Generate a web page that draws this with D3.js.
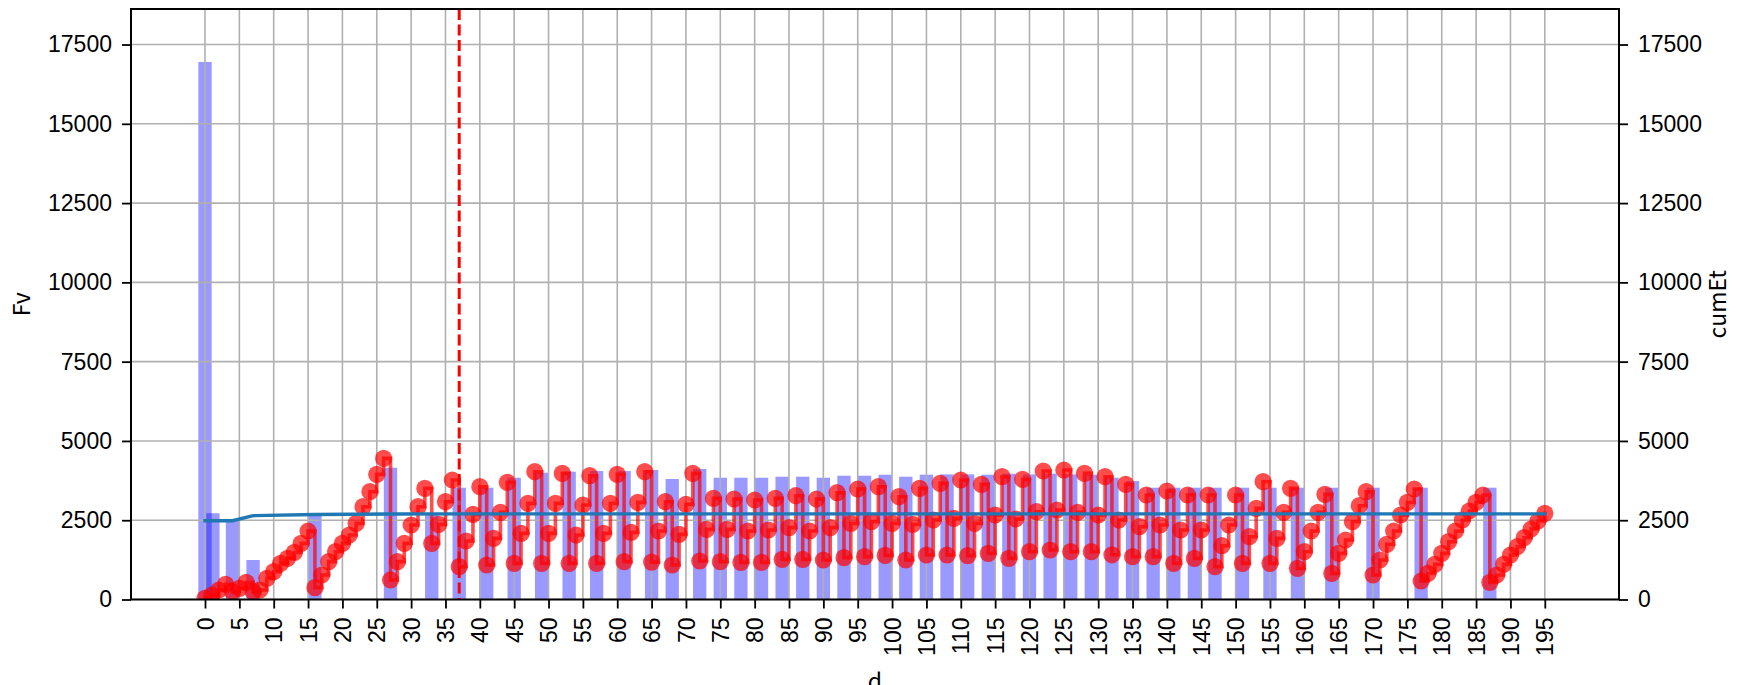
<!DOCTYPE html>
<html>
<head>
<meta charset="utf-8">
<script src="https://cdn.jsdelivr.net/npm/d3@7"></script>
<style>
  body { margin: 0; background: #fff; }
  svg { display: block; font-family: "Noto Sans CJK JP", "Noto Sans", sans-serif; }
</style>
</head>
<body>
<svg id="chart" width="1740" height="685"></svg>
<script>
// Daily Fv values, one per day d = 0 .. 195
const fvValues = [
  37, 142, 300, 478, 247, 352, 541, 247, 300, 667,
  877, 1140, 1298, 1487, 1771, 2160, 373, 772, 1193, 1508,
  1771, 2033, 2401, 2927, 3400, 3946, 4450, 616, 1193, 1771,
  2349, 2927, 3505, 1771, 2370, 3084, 3768, 1035, 1844, 2685,
  3557, 1088, 1928, 2748, 3694, 1140, 2086, 3032, 4030, 1140,
  2086, 3032, 3978, 1140, 2033, 2979, 3904, 1140, 2086, 3032,
  3946, 1193, 2118, 3063, 4030, 1180, 2160, 3084, 1088, 2054,
  3000, 3978, 1214, 2212, 3189, 1193, 2212, 3168, 1172, 2160,
  3137, 1172, 2191, 3189, 1266, 2265, 3273, 1266, 2160, 3168,
  1245, 2265, 3368, 1319, 2401, 3484, 1350, 2454, 3557, 1390,
  2401, 3242, 1245, 2370, 3505, 1403, 2506, 3663, 1403, 2559,
  3768, 1382, 2401, 3631, 1456, 2664, 3873, 1298, 2538, 3789,
  1508, 2769, 4052, 1561, 2822, 4083, 1508, 2748, 3978, 1508,
  2664, 3873, 1410, 2506, 3631, 1350, 2296, 3295, 1350, 2349,
  3421, 1140, 2191, 3295, 1298, 2191, 3295, 1035, 1697, 2349,
  3295, 1140, 1981, 2874, 3715, 1140, 1928, 2748, 3505, 983,
  1508, 2160, 2748, 3316, 825, 1456, 1876, 2454, 2958, 3400,
  772, 1245, 1739, 2160, 2664, 3063, 3484, 583, 825, 1109,
  1456, 1823, 2160, 2506, 2790, 3063, 3295, 541, 772, 1109,
  1403, 1666, 1949, 2223, 2475, 2717
];

// Event days drawn as bars, and their Fv totals
const barDays = [
  0, 1.15, 4, 7, 16, 27, 33, 37, 41, 45, 49, 53, 57, 61, 65,
  68, 72, 75, 78, 81, 84, 87, 90, 93, 96, 99,
  102, 105, 108, 111, 114, 117, 120, 123, 126, 129, 132,
  135, 138, 141, 144, 147, 151, 155, 159, 164, 170, 177, 187
];
const barFv = [
  16950, 2720, 2490, 1245, 2650, 4156, 2700, 3525, 3525, 3840, 3998, 4030, 4050, 4050, 4083,
  3800, 4114, 3840, 3840, 3840, 3872, 3872, 3840, 3903, 3903, 3935,
  3872, 3935, 3945, 3945, 3935, 3967, 3945, 3970, 3945, 3935, 3840,
  3735, 3525, 3525, 3525, 3525, 3525, 3525, 3525, 3525, 3525, 3525, 3525
];

// Cumulative Et curve (right axis)
const cumDays = [0, 4, 7, 16, 27, 37, 195];
const cumEt   = [2485, 2485, 2643, 2680, 2695, 2700, 2700];

// Reference day marked with a dashed line
const markerDay = 37;

// Tick labels
const xTickValues = [0, 5, 10, 15, 20, 25, 30, 35, 40, 45, 50, 55, 60, 65, 70, 75, 80, 85, 90, 95,
  100, 105, 110, 115, 120, 125, 130, 135, 140, 145, 150, 155, 160, 165, 170, 175, 180, 185, 190, 195];
const yTickValues = [0, 2500, 5000, 7500, 10000, 12500, 15000, 17500];

const plot = { left: 131, right: 1619, top: 9, bottom: 599.5 };
const fontSize = 23;

const svg = d3.select("#chart");

const x = d3.scaleLinear().domain([-10.77, 205.8]).range([plot.left, plot.right]);
const y = d3.scaleLinear().domain([0, 18620]).range([plot.bottom, plot.top]);
const yRight = d3.scaleLinear().domain([0, 18620]).range([plot.bottom, plot.top]);

svg.append("defs").append("clipPath").attr("id", "plot-clip")
  .append("rect")
  .attr("x", plot.left).attr("y", plot.top)
  .attr("width", plot.right - plot.left).attr("height", plot.bottom - plot.top);

const body = svg.append("g").attr("clip-path", "url(#plot-clip)");

// Bars
const barWidth = 1.94;
body.append("g").selectAll("rect")
  .data(barDays.map((d, i) => ({ d, v: barFv[i] })))
  .join("rect")
  .attr("x", p => x(p.d - barWidth / 2))
  .attr("width", x(barWidth) - x(0))
  .attr("y", p => y(p.v))
  .attr("height", p => y(0) - y(p.v))
  .attr("fill", "#0000ff")
  .attr("fill-opacity", 0.4);

// Grid
const grid = body.append("g").attr("stroke", "#b0b0b0").attr("stroke-width", 1.6);
grid.selectAll("line.gx").data(xTickValues).join("line")
  .attr("x1", d => x(d)).attr("x2", d => x(d))
  .attr("y1", plot.top).attr("y2", plot.bottom);
grid.selectAll("line.gy").data(yTickValues).join("line")
  .attr("x1", plot.left).attr("x2", plot.right)
  .attr("y1", d => y(d)).attr("y2", d => y(d));

// Fv step series with markers
const fvPoints = fvValues.map((v, i) => ({ d: i, v }));
const stepLine = d3.line().x(p => x(p.d)).y(p => y(p.v)).curve(d3.curveStepAfter);
body.append("path")
  .datum(fvPoints)
  .attr("d", stepLine)
  .attr("fill", "none")
  .attr("stroke", "#ff0000")
  .attr("stroke-opacity", 0.7)
  .attr("stroke-width", 3.6)
  .attr("stroke-linecap", "square");
body.append("g").selectAll("circle")
  .data(fvPoints)
  .join("circle")
  .attr("cx", p => x(p.d))
  .attr("cy", p => y(p.v))
  .attr("r", 8.6)
  .attr("fill", "#ff0000")
  .attr("fill-opacity", 0.7);

// Dashed reference line
body.append("line")
  .attr("x1", x(markerDay)).attr("x2", x(markerDay))
  .attr("y1", plot.top).attr("y2", plot.bottom)
  .attr("stroke", "#ff0000")
  .attr("stroke-width", 3)
  .attr("stroke-dasharray", "11,4.5");

// cumEt line on right axis
const cumLine = d3.line().x(p => x(p.d)).y(p => yRight(p.v));
body.append("path")
  .datum(cumDays.map((d, i) => ({ d, v: cumEt[i] })))
  .attr("d", cumLine)
  .attr("fill", "none")
  .attr("stroke", "#1f77b4")
  .attr("stroke-width", 3.4)
  .attr("stroke-linecap", "square");

// Axes
const fmt = d3.format("d");
function styleAxis(g) {
  g.selectAll("path.domain").remove();
  g.selectAll(".tick line").attr("stroke", "#000").attr("stroke-width", 1.8);
  g.selectAll(".tick text").attr("fill", "#000").style("font-size", fontSize + "px");
}

const xAxis = svg.append("g")
  .attr("transform", `translate(0,${plot.bottom})`)
  .call(d3.axisBottom(x).tickValues(xTickValues).tickFormat(fmt).tickSize(9).tickPadding(10))
  .call(styleAxis);
xAxis.selectAll(".tick text")
  .attr("transform", "rotate(-90)")
  .attr("text-anchor", "end")
  .attr("x", -18)
  .attr("y", 0)
  .attr("dy", "0.35em");

svg.append("g")
  .attr("transform", `translate(${plot.left},0)`)
  .call(d3.axisLeft(y).tickValues(yTickValues).tickFormat(fmt).tickSize(9).tickPadding(10))
  .call(styleAxis);

svg.append("g")
  .attr("transform", `translate(${plot.right},0)`)
  .call(d3.axisRight(yRight).tickValues(yTickValues).tickFormat(fmt).tickSize(9).tickPadding(10))
  .call(styleAxis);

// Frame
svg.append("rect")
  .attr("x", plot.left).attr("y", plot.top)
  .attr("width", plot.right - plot.left).attr("height", plot.bottom - plot.top)
  .attr("fill", "none").attr("stroke", "#000").attr("stroke-width", 2);

// Axis titles
svg.append("text")
  .attr("transform", `translate(22,${(plot.top + plot.bottom) / 2}) rotate(-90)`)
  .attr("text-anchor", "middle").attr("dy", "0.35em")
  .style("font-size", fontSize + "px").text("Fv");
svg.append("text")
  .attr("transform", `translate(1718,${(plot.top + plot.bottom) / 2}) rotate(-90)`)
  .attr("text-anchor", "middle").attr("dy", "0.35em")
  .style("font-size", fontSize + "px").text("cumEt");
svg.append("text")
  .attr("x", (plot.left + plot.right) / 2).attr("y", 690)
  .attr("text-anchor", "middle")
  .style("font-size", fontSize + "px").text("d");
</script>
</body>
</html>
